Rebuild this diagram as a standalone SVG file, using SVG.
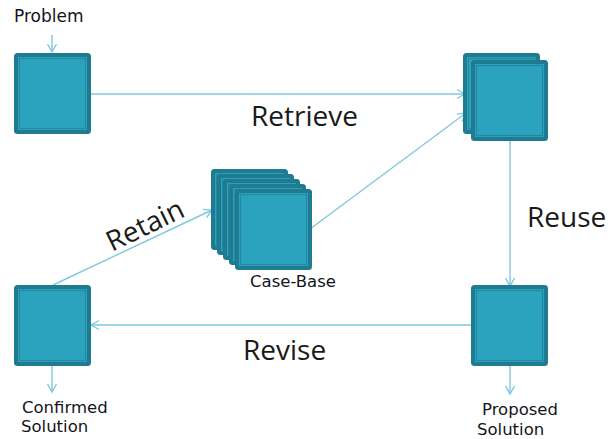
<svg xmlns="http://www.w3.org/2000/svg" width="608" height="439" viewBox="0 0 608 439">
<style>
.o{fill:#1f7b8f}
.i{fill:#2ca3be}
.l{fill:none;stroke:#2388a1;stroke-width:1.2}
.c{fill:none;stroke:#7fc9dd;stroke-width:1.4}
.big{font-family:"Open Sans","Liberation Sans",sans-serif;font-size:28px;fill:#1a1a1a}
.sm{font-family:"DejaVu Sans","Liberation Sans",sans-serif;font-size:16.5px;fill:#141420}
</style>
<defs>
<marker id="a" markerUnits="userSpaceOnUse" markerWidth="12" markerHeight="12" refX="9" refY="5" orient="auto" viewBox="0 0 12 10">
<path d="M1,0.5 L9,5 L1,9.5" fill="none" stroke="#7fc9dd" stroke-width="1.4"/>
</marker>
<g id="box">
<rect class="o" x="0" y="0" width="77" height="81" rx="3.5"/>
<rect class="i" x="4" y="4" width="69" height="73"/>
<rect class="l" x="5.5" y="5.5" width="66" height="70"/>
</g>
</defs>
<g id="connectors">
<line class="c" x1="52" y1="35" x2="52" y2="52" marker-end="url(#a)"/>
<line class="c" x1="91" y1="94" x2="465" y2="94" marker-end="url(#a)"/>
<line class="c" x1="310" y1="229" x2="466" y2="113" marker-end="url(#a)"/>
<line class="c" x1="510" y1="141" x2="510" y2="286" marker-end="url(#a)"/>
<line class="c" x1="471" y1="325" x2="91" y2="325" marker-end="url(#a)"/>
<line class="c" x1="53" y1="285" x2="212" y2="210" marker-end="url(#a)"/>
<line class="c" x1="52" y1="366" x2="52" y2="392" marker-end="url(#a)"/>
<line class="c" x1="510" y1="366" x2="510" y2="394" marker-end="url(#a)"/>
</g>
<g id="problem">
<use href="#box" x="14" y="53"/>
<text class="sm" x="14" y="22" style="font-size:17px">Problem</text>
</g>
<g id="retrieved">
<use href="#box" x="463" y="53"/>
<use href="#box" x="471" y="60"/>
</g>
<g id="case-base">
<use href="#box" x="211" y="169"/>
<use href="#box" x="217" y="174"/>
<use href="#box" x="223" y="179"/>
<use href="#box" x="229" y="184"/>
<use href="#box" x="235" y="189"/>
<text class="sm" x="250" y="287">Case-Base</text>
</g>
<g id="confirmed">
<use href="#box" x="14" y="285"/>
<text class="sm" x="22" y="413">Confirmed</text>
<text class="sm" x="21" y="432">Solution</text>
</g>
<g id="proposed">
<use href="#box" x="471" y="285"/>
<text class="sm" x="482" y="415">Proposed</text>
<text class="sm" x="477" y="435">Solution</text>
</g>
<g id="labels">
<text class="big" x="251" y="126">Retrieve</text>
<text class="big" x="527" y="227">Reuse</text>
<text class="big" x="243" y="360">Revise</text>
<text class="big" transform="translate(112,252) rotate(-26)">Retain</text>
</g>
</svg>
